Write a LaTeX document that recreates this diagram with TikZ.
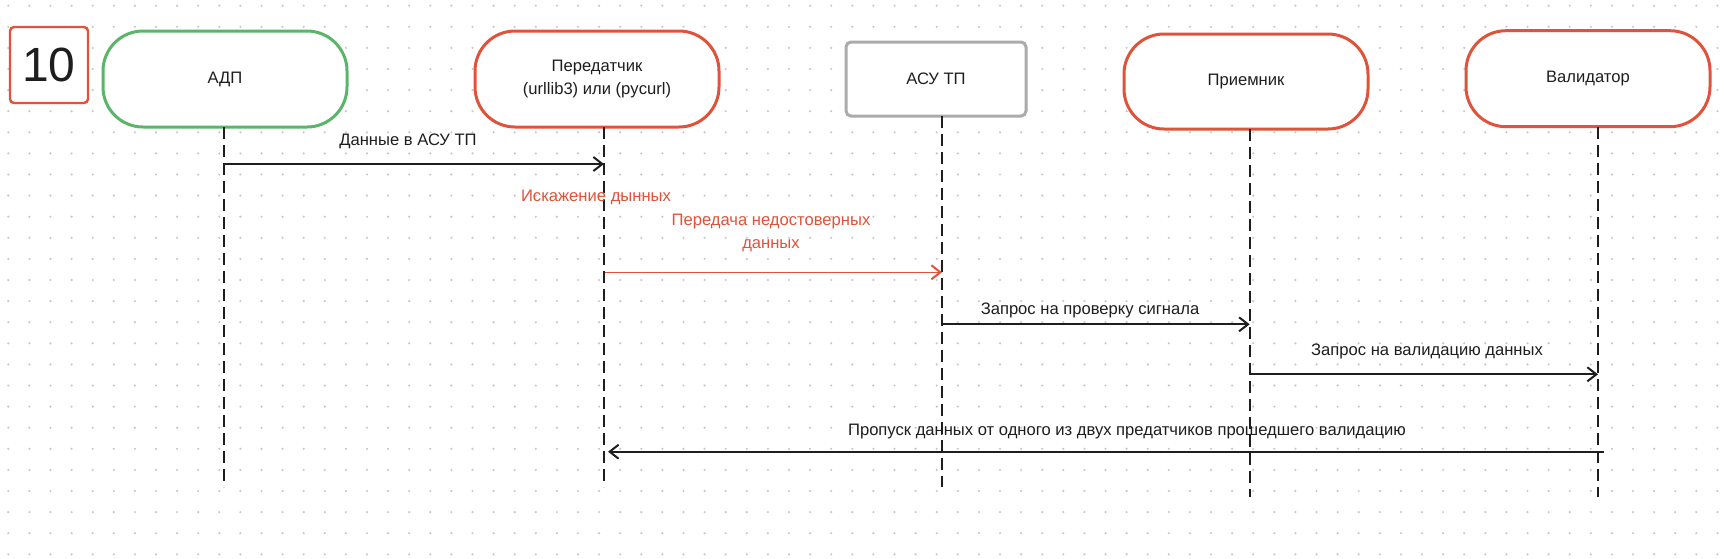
\documentclass[tikz,border=0pt]{standalone}
\usepackage{fontspec}
\setmainfont{Liberation Sans}
\usetikzlibrary{arrows.meta}
\definecolor{myred}{HTML}{E0533A}
\definecolor{mygreen}{HTML}{5AB46A}
\definecolor{mygray}{HTML}{ABABAB}
\definecolor{ink}{HTML}{1E1E1E}
\definecolor{dotc}{HTML}{C8C8C8}
\tikzset{
  actor/.style={draw, line width=1.5pt, rounded corners=20pt, minimum width=122pt, minimum height=48pt, fill=white, text=ink, align=center, inner sep=0pt, font=\fontsize{8.3}{11.7}\selectfont},
  lifeline/.style={draw=ink, line width=1pt, dash pattern=on 6pt off 3pt},
  msg/.style={draw=ink, line width=1pt, -{Straight Barb[length=4.5pt,width=7pt,line width=1pt]}},
  redmsg/.style={msg, draw=myred},
  lbl/.style={text=ink, inner sep=0pt, font=\fontsize{8.3}{11.3}\selectfont, align=center},
  redlbl/.style={lbl, text=myred}
}
\begin{document}
\begin{tikzpicture}[x=0.5pt,y=-0.5pt]
\useasboundingbox[fill=white] (0,0) rectangle (1736,558);
% dot grid
\foreach \i in {0,...,82}{
  \foreach \j in {0,...,26}{
    \fill[dotc] (8.3+21.1*\i, 5.7+21.1*\j) circle (0.6pt);
  }
}
% number box
\node[draw=myred, line width=1.2pt, rounded corners=2pt, minimum width=39pt, minimum height=38pt, fill=white, text=ink, font=\fontsize{24}{24}\selectfont, inner sep=0pt] (num) at (49,65) {10};
% actors
\node[actor, draw=mygreen] (adp) at (225,79) {АДП};
\node[actor, draw=myred] (tx) at (597,79) {Передатчик\\(urllib3) или (pycurl)};
\node[actor, draw=mygray, rounded corners=2.5pt, minimum width=90pt, minimum height=37pt] (asu) at (936,79) {АСУ ТП};
\node[actor, draw=myred, minimum height=47.5pt] (rx) at (1246,81.5) {Приемник};
\node[actor, draw=myred] (val) at (1588,78.7) {Валидатор};
% lifeline coordinates
\coordinate (l1t) at (224,127);   \coordinate (l1b) at (224,487);
\coordinate (l2t) at (604,127);   \coordinate (l2b) at (604,487);
\coordinate (l3t) at (942,116);   \coordinate (l3b) at (942,487);
\coordinate (l4t) at (1249.7,129);\coordinate (l4b) at (1249.7,497);
\coordinate (l5t) at (1598,127);  \coordinate (l5b) at (1598,497);
\draw[lifeline] (l1t) -- (l1b);
\draw[lifeline] (l2t) -- (l2b);
\draw[lifeline] (l3t) -- (l3b);
\draw[lifeline] (l4t) -- (l4b);
\draw[lifeline] (l5t) -- (l5b);
% message coordinates
\coordinate (m1s) at (223,164);   \coordinate (m1e) at (604,164);
\coordinate (m2s) at (605,272.3); \coordinate (m2e) at (942,272.3);
\coordinate (m3s) at (942,324.3); \coordinate (m3e) at (1249.7,324.3);
\coordinate (m4s) at (1249.7,374.3); \coordinate (m4e) at (1598,374.3);
\coordinate (m5s) at (1604,451.7); \coordinate (m5e) at (608,451.7);
\draw[msg] (m1s) -- (m1e);
\draw[redmsg, line width=0.8pt] (m2s) -- (m2e);
\draw[msg] (m3s) -- (m3e);
\draw[msg] (m4s) -- (m4e);
\draw[msg] (m5s) -- (m5e);
% labels
\node[lbl] (t1) at (408,141.7) {Данные в АСУ ТП};
\node[redlbl] (t2) at (596,197) {Искажение дынных};
\node[redlbl] (t3) at (771,233) {Передача недостоверных\\данных};
\node[lbl] (t4) at (1090,310) {Запрос на проверку сигнала};
\node[lbl] (t5) at (1427,351.7) {Запрос на валидацию данных};
\node[lbl] (t6) at (1127,431.7) {Пропуск данных от одного из двух предатчиков прошедшего валидацию};
\end{tikzpicture}
\end{document}
